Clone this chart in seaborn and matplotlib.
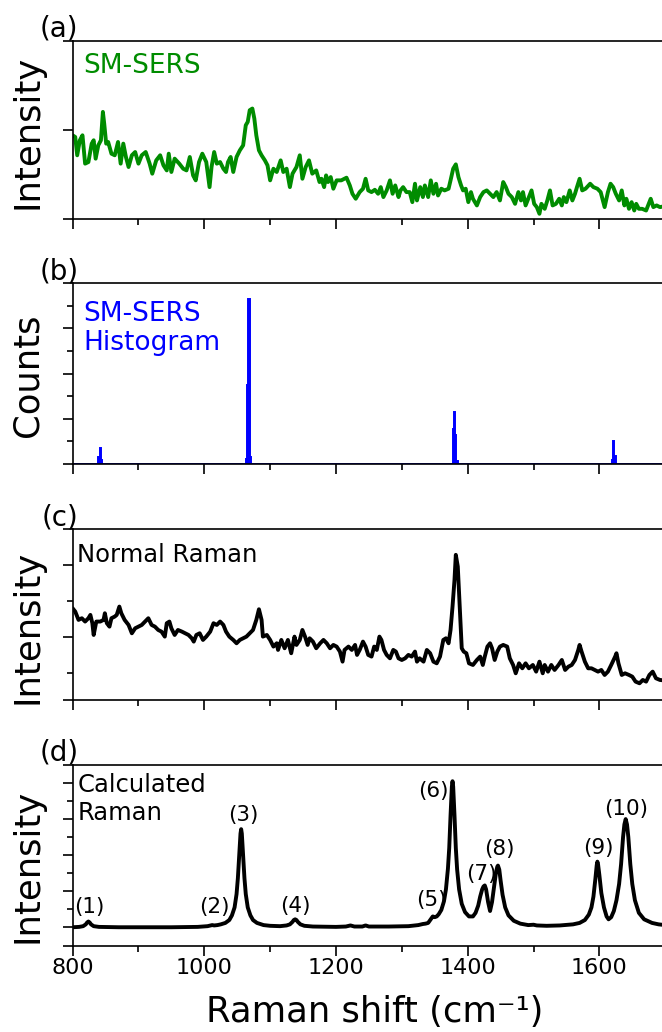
import matplotlib
matplotlib.use("Agg")
import matplotlib.pyplot as plt
import seaborn as sns
import pandas as pd
from matplotlib.ticker import FixedLocator, NullFormatter

# ---------------- data ----------------
# (a) SM-SERS spectrum (arb. units)
sers_x = [800, 804, 807, 811, 815, 819, 824, 829, 832, 835, 839, 843, 846, 848, 851, 854, 859, 864,
          869, 873, 877, 881, 885, 890, 895, 900, 905, 911, 917, 921, 927, 933, 938, 943, 946, 950,
          955, 962, 968, 973, 978, 983, 987, 992, 997, 1003, 1008, 1011, 1015, 1019, 1024, 1029,
          1033, 1036, 1040, 1044, 1049, 1054, 1059, 1063, 1066, 1069, 1073, 1076, 1079, 1083, 1087,
          1092, 1096, 1100, 1105, 1110, 1116, 1120, 1125, 1130, 1134, 1140, 1145, 1149, 1154, 1159,
          1164, 1170, 1175, 1178, 1182, 1185, 1188, 1192, 1196, 1201, 1208, 1216, 1221, 1225, 1230,
          1236, 1241, 1245, 1249, 1254, 1259, 1264, 1268, 1272, 1277, 1282, 1286, 1290, 1295, 1298,
          1302, 1307, 1312, 1316, 1320, 1323, 1328, 1332, 1335, 1340, 1344, 1348, 1352, 1355, 1360,
          1365, 1371, 1374, 1378, 1382, 1386, 1390, 1393, 1397, 1401, 1405, 1408, 1414, 1419, 1424,
          1429, 1434, 1439, 1444, 1449, 1454, 1458, 1462, 1467, 1472, 1477, 1481, 1484, 1488, 1492,
          1497, 1501, 1505, 1509, 1512, 1517, 1521, 1525, 1529, 1534, 1539, 1543, 1546, 1550, 1555,
          1559, 1563, 1566, 1570, 1574, 1579, 1586, 1591, 1597, 1602, 1608, 1613, 1617, 1621, 1625,
          1630, 1634, 1638, 1641, 1645, 1649, 1653, 1656, 1660, 1665, 1671, 1676, 1678, 1682, 1687,
          1692, 1700]
sers_y = [936, 917, 711, 880, 936, 617, 635, 842, 880, 673, 823, 880, 1199, 1068, 842, 861, 729, 711,
          861, 617, 842, 692, 579, 711, 748, 617, 711, 748, 617, 504, 654, 711, 598, 541, 729, 523,
          673, 617, 560, 541, 692, 485, 429, 635, 729, 635, 353, 579, 748, 617, 635, 560,
          523, 635, 692, 523, 692, 767, 823, 1049, 1087, 1218, 1237, 1124, 936, 767, 711,
          654, 598, 429, 560, 523, 654, 523, 560, 353, 504, 579, 711, 447, 579, 654,
          504, 541, 410, 447, 353, 485, 410, 466, 335, 429, 429, 459, 372, 278, 222,
          297, 335, 447, 316, 297, 323, 278, 353, 241, 316, 429, 278, 372, 241, 316,
          353, 297, 297, 184, 391, 203, 353, 241, 372, 241, 429, 278, 391, 259, 335,
          316, 335, 429, 560, 609, 466, 372, 316, 335, 184, 297, 222, 147, 241, 297,
          316, 278, 241, 297, 203, 410, 353, 278, 241, 165, 297, 203, 297, 147, 222,
          316, 165, 128, 53, 165, 109, 203, 316, 147, 165, 222, 147, 241, 184, 316,
          203, 278, 353, 447, 316, 335, 391, 353, 335, 297, 128, 297, 391, 353, 278,
          203, 316, 147, 222, 109, 184, 90, 165, 109, 109, 90, 184, 222, 128, 147,
          128, 140]

# (b) SM-SERS histogram (counts per 2 cm-1 bin)
hist_x = [806, 814, 826, 840, 842, 844, 856, 872, 886, 904, 932, 962, 988, 1002, 1026, 1048,
          1064, 1066, 1068, 1070, 1092, 1104, 1142, 1178, 1214, 1272, 1296, 1312, 1334,
          1378, 1380, 1382, 1384, 1396, 1418, 1452, 1472, 1490, 1508, 1520, 1538, 1558, 1576,
          1598, 1620, 1622, 1624, 1640, 1662, 1686]
hist_counts = [0.04, 0.04, 0.04, 0.8, 1.75, 0.4, 0.04, 0.04, 0.04, 0.04, 0.04, 0.04, 0.04, 0.04,
               0.04, 0.04,
               0.5, 8.7, 18.3, 0.8, 0.04, 0.04, 0.04, 0.04, 0.04, 0.04, 0.04, 0.04, 0.04,
               3.9, 5.8, 3.2, 0.3, 0.04, 0.04, 0.04, 0.04, 0.04, 0.04, 0.04, 0.04, 0.04, 0.04,
               0.04, 0.4, 2.5, 0.9, 0.04, 0.04, 0.04]

# (c) Normal Raman spectrum (arb. units)
nr_x = [800, 804, 809, 814, 819, 824, 827, 830, 832, 836, 842, 847, 849, 852, 856, 859, 864, 867,
        871, 874, 879, 885, 890, 895, 900, 905, 910, 915, 920, 925, 930, 935, 940, 943, 947, 950,
        955, 960, 966, 971, 976, 981, 984, 988, 993, 998, 1003, 1009, 1014, 1019, 1024, 1029,
        1033, 1038, 1044, 1049, 1054, 1059, 1064, 1069, 1074, 1079, 1083, 1087, 1089, 1095,
        1100, 1105, 1110, 1112, 1117, 1122, 1127, 1132, 1137, 1140, 1145, 1149, 1153, 1157,
        1160, 1165, 1170, 1176, 1181, 1186, 1191, 1196, 1201, 1206, 1210, 1213, 1219, 1224,
        1229, 1232, 1236, 1241, 1245, 1249, 1254, 1258, 1262, 1266, 1269, 1273, 1277, 1282,
        1287, 1291, 1295, 1300, 1305, 1310, 1315, 1320, 1323, 1327, 1333, 1338, 1343, 1348,
        1353, 1358, 1363, 1367, 1371, 1374, 1377, 1380, 1382, 1385, 1387, 1391, 1394, 1398,
        1402, 1408, 1414, 1419, 1423, 1426, 1430, 1434, 1437, 1441, 1445, 1449, 1454, 1460,
        1464, 1469, 1473, 1478, 1483, 1488, 1493, 1499, 1504, 1509, 1514, 1517, 1522, 1527,
        1532, 1538, 1543, 1548, 1553, 1558, 1563, 1568, 1570, 1573, 1578, 1583, 1588, 1593,
        1598, 1603, 1608, 1613, 1618, 1624, 1626, 1629, 1634, 1639, 1645, 1650, 1655, 1661,
        1666, 1671, 1676, 1681, 1686, 1692, 1700]
nr_y = [1399, 1353, 1238, 1261, 1215, 1261, 1307, 1192, 1030, 1215, 1215, 1238, 1330, 1192, 1145,
        1261, 1284, 1307, 1422, 1330, 1238, 1168, 1053, 1122, 1145, 1168, 1215, 1261, 1168, 1145,
        1099, 1076, 1007, 1192, 1215, 1122, 1030, 1099, 1076, 1053, 1030, 984, 938, 1030, 1053,
        961, 1007, 1076, 1192, 1168, 1215, 1168, 1076, 1007, 961, 915, 961, 984, 1007, 1053,
        1099, 1238, 1385, 1238, 1007, 1030, 961, 869, 915, 823, 961, 846, 961, 777, 1007, 892,
        961, 1099, 1007, 892, 984, 938, 846, 915, 961, 915, 846, 892, 869, 800, 661, 823, 869,
        823, 892, 754, 823, 938, 869, 754, 731, 869, 823, 1007, 961, 823, 754, 707, 823, 800,
        707, 684, 707, 754, 731, 800, 661, 707, 661, 823, 777, 661, 638, 731, 961, 984, 915,
        1099, 1422, 1791, 2137, 1975, 1606, 846, 800, 777, 638, 615, 684, 731, 615, 731, 869,
        915, 846, 684, 800, 869, 892, 869, 707, 615, 500, 638, 569, 638, 569, 615, 523, 661,
        500, 615, 523, 615, 546, 615, 684, 546, 592, 615, 684, 823, 892, 800, 661, 569, 569,
        546, 523, 546, 477, 523, 615, 731, 777, 638, 477, 500, 477, 454, 385, 362, 408, 385,
        477, 523, 431, 408, 400]

# (d) Calculated Raman spectrum (arb. units)
calc_x = [800, 810, 816, 820, 822, 824, 826, 828, 832, 840, 870, 950, 990, 1005, 1010, 1012, 1015,
          1020, 1025, 1032, 1038, 1042, 1046, 1049, 1051, 1053, 1055, 1056, 1057, 1059, 1061,
          1063, 1066, 1070, 1074, 1080, 1090, 1100, 1115, 1125, 1130, 1134, 1136, 1138, 1140,
          1142, 1146, 1152, 1165, 1200, 1215, 1222, 1228, 1240, 1245, 1250, 1280, 1310, 1325,
          1332, 1336, 1340, 1344, 1347, 1350, 1353, 1356, 1360, 1364, 1367, 1370, 1372, 1374,
          1376, 1377, 1378, 1380, 1382, 1384, 1387, 1391, 1396, 1402, 1408, 1412, 1416, 1419,
          1422, 1424, 1426, 1428, 1431, 1434, 1437, 1440, 1443, 1445, 1446, 1448, 1450, 1453,
          1457, 1462, 1470, 1480, 1492, 1500, 1505, 1520, 1540, 1560, 1570, 1578, 1584, 1588,
          1591, 1594, 1596, 1597, 1598, 1600, 1603, 1607, 1611, 1614, 1618, 1622, 1626, 1630,
          1633, 1636, 1638, 1640, 1642, 1644, 1647, 1650, 1654, 1660, 1668, 1680, 1690, 1700]
calc_y = [0.0, 0.01, 0.03, 0.08, 0.13, 0.16, 0.13, 0.08, 0.03, 0.01, 0.0, 0.0, 0.01, 0.03, 0.05,
          0.06, 0.05, 0.06, 0.08, 0.12, 0.20, 0.33, 0.55, 0.92, 1.36, 1.99, 2.60, 2.72, 2.60,
          1.99, 1.36, 0.92, 0.55, 0.33, 0.20, 0.12, 0.06, 0.04, 0.03, 0.05, 0.08, 0.15, 0.20,
          0.22, 0.20, 0.15, 0.08, 0.04, 0.02, 0.01, 0.02, 0.05, 0.02, 0.02, 0.05, 0.02, 0.02,
          0.03, 0.06, 0.09, 0.10, 0.12, 0.22, 0.30, 0.28, 0.30, 0.36, 0.48, 0.72, 1.05, 1.62,
          2.20, 3.10, 3.90, 4.05, 3.90, 3.10, 2.20, 1.60, 1.05, 0.65, 0.42, 0.30, 0.30, 0.40,
          0.60, 0.85, 1.05, 1.13, 1.16, 1.05, 0.70, 0.45, 0.70, 1.10, 1.52, 1.68, 1.71, 1.60,
          1.30, 0.90, 0.55, 0.33, 0.18, 0.10, 0.06, 0.07, 0.05, 0.04, 0.05, 0.08, 0.12, 0.20,
          0.35, 0.55, 0.85, 1.35, 1.72, 1.82, 1.75, 1.45, 0.95, 0.55, 0.30, 0.22, 0.28, 0.45,
          0.75, 1.20, 1.75, 2.50, 2.85, 3.00, 2.85, 2.50, 1.75, 1.20, 0.75, 0.40, 0.22, 0.12,
          0.08, 0.06]

peak_labels = ["(1)", "(2)", "(3)", "(4)", "(5)", "(6)", "(7)", "(8)", "(9)", "(10)"]
peak_label_x = [826, 1015, 1060, 1138, 1345, 1348, 1421, 1448, 1599, 1641]
peak_label_y = [0.57, 0.57, 3.12, 0.60, 0.76, 3.79, 1.48, 2.17, 2.19, 3.27]

x_major = [800, 1000, 1200, 1400, 1600]
x_minor = [900, 1100, 1300, 1500, 1700]

# ---------------- style ----------------
sns.set_style("ticks")
plt.rcParams['font.family'] = ['DejaVu Sans']
plt.rcParams.update({
    'axes.linewidth': 1.2,
    'text.color': 'black',
    'axes.labelcolor': 'black',
    'xtick.color': 'black',
    'ytick.color': 'black',
    'axes.edgecolor': 'black',
})

W, H = 662, 1032
fig = plt.figure(figsize=(W / 100, H / 100), dpi=100)

AX_LEFT = 72.6
AX_W = 592.6


def make_ax(top, bottom):
    return fig.add_axes([AX_LEFT / W, 1 - bottom / H, AX_W / W, (bottom - top) / H])


ax_a = make_ax(40.7, 218.5)
ax_b = make_ax(283.3, 464.0)
ax_c = make_ax(529.3, 700.0)
ax_d = make_ax(765.0, 946.0)

GREEN = "#008C00"
BLUE = "#0000FF"
LW = 2.8

# (a)
sns.lineplot(x=sers_x, y=sers_y, ax=ax_a, color=GREEN, linewidth=LW, sort=False, estimator=None)
ax_a.set_ylim(0, 2000)
ax_a.yaxis.set_major_locator(FixedLocator([0, 1000, 2000]))
ax_a.yaxis.set_minor_locator(FixedLocator([]))

# (b)
sns.histplot(x=hist_x, weights=hist_counts, binwidth=2, binrange=(799, 1701), ax=ax_b,
             color=BLUE, alpha=1.0, element="bars", linewidth=1.4, edgecolor=BLUE)
ax_b.set_ylim(0, 20)
ax_b.yaxis.set_major_locator(FixedLocator([0, 5, 10, 15, 20]))
ax_b.yaxis.set_minor_locator(FixedLocator([2.5, 7.5, 12.5, 17.5]))

# (c)
sns.lineplot(x=nr_x, y=nr_y, ax=ax_c, color="black", linewidth=LW, sort=False, estimator=None)
ax_c.set_ylim(131, 2490)
ax_c.yaxis.set_major_locator(FixedLocator([131, 1000, 2000, 2490]))
ax_c.yaxis.set_minor_locator(FixedLocator([500, 1500]))

# (d)
sns.lineplot(x=calc_x, y=calc_y, ax=ax_d, color="black", linewidth=LW, sort=False, estimator=None)
ax_d.set_ylim(-0.52, 4.5)
ax_d.yaxis.set_major_locator(FixedLocator([-0.52, 0, 1, 2, 3, 4, 4.5]))
ax_d.yaxis.set_minor_locator(FixedLocator([0.5, 1.5, 2.5, 3.5]))
for lbl, lx, ly in zip(peak_labels, peak_label_x, peak_label_y):
    ax_d.text(lx, ly, lbl, ha="center", va="center", fontsize=15.5, color="black")

ylabels = ["Intensity", "Counts", "Intensity", "Intensity"]
ylab_pos = [0.49, 0.49, 0.43, 0.44]
panel = ["(a)", "(b)", "(c)", "(d)"]
for ax, yl, yp, pl in zip([ax_a, ax_b, ax_c, ax_d], ylabels, ylab_pos, panel):
    ax.set_xlim(800, 1700)
    ax.xaxis.set_major_locator(FixedLocator(x_major))
    ax.xaxis.set_minor_locator(FixedLocator(x_minor))
    ax.tick_params(axis="both", which="major", direction="out", length=7, width=1.2,
                   colors="black", labelsize=16, pad=2)
    ax.tick_params(axis="both", which="minor", direction="out", length=4, width=1.2,
                   colors="black")
    ax.tick_params(axis="y", labelleft=False)
    ax.tick_params(top=False, right=False)
    for s in ["left", "bottom", "top"]:
        ax.spines[s].set_visible(True)
        ax.spines[s].set_linewidth(1.2)
        ax.spines[s].set_color("black")
    ax.spines["right"].set_visible(False)
    ax.set_ylabel(yl, fontsize=25.5, color="black")
    ax.yaxis.set_label_coords(-0.048, yp)
    ax.set_xlabel("")
    ax.annotate(pl, xy=(0, 1), xycoords="axes fraction", xytext=(6, -2),
                textcoords="offset pixels", ha="right", va="bottom", fontsize=20,
                color="black")
    if ax is not ax_d:
        ax.tick_params(axis="x", labelbottom=False)

ax_a.text(0.018, 0.93, "SM-SERS", transform=ax_a.transAxes, ha="left", va="top",
          fontsize=19, color=GREEN)
ax_b.text(0.018, 0.90, "SM-SERS\nHistogram", transform=ax_b.transAxes, ha="left", va="top",
          fontsize=19, color=BLUE, linespacing=1.15)
ax_c.text(0.008, 0.92, "Normal Raman", transform=ax_c.transAxes, ha="left", va="top",
          fontsize=17.5, color="black")
ax_d.text(0.009, 0.955, "Calculated\nRaman", transform=ax_d.transAxes, ha="left", va="top",
          fontsize=17.5, color="black", linespacing=1.2)

ax_d.set_xlabel("Raman shift (cm⁻¹)", fontsize=25.5, color="black")
ax_d.xaxis.set_label_coords(0.51, -0.27)

fig.savefig("out.png", dpi=100)
